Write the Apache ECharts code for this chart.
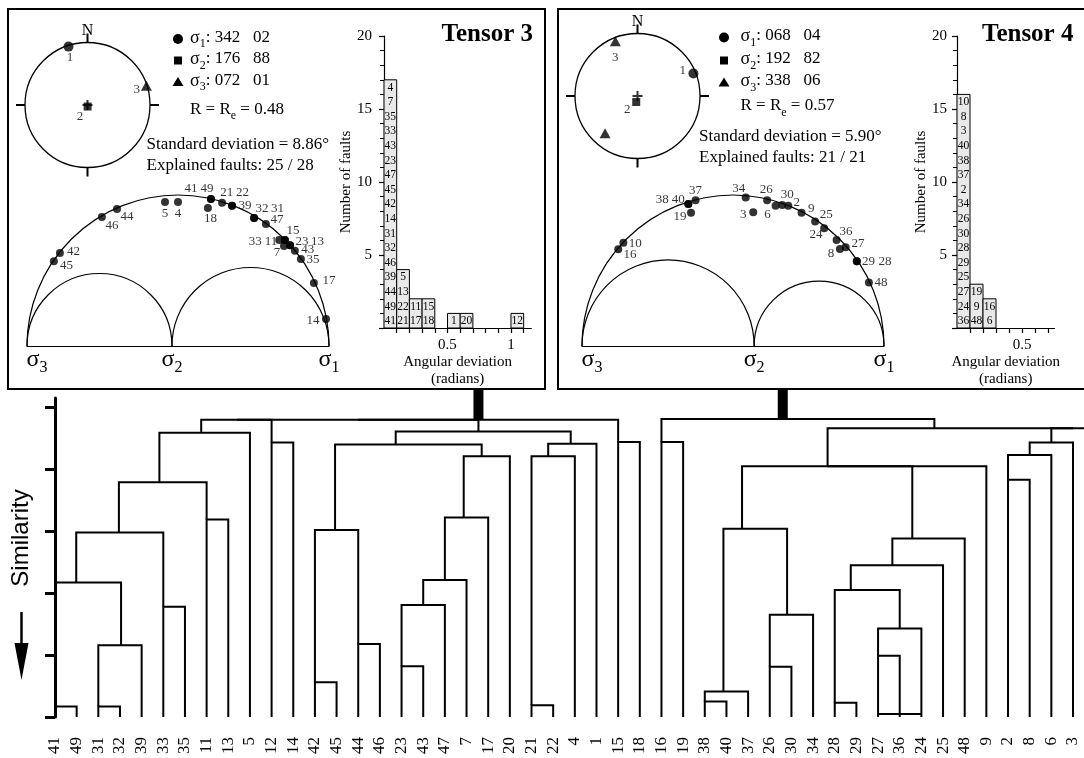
<!DOCTYPE html>
<html>
<head>
<meta charset="utf-8">
<title>Tensor 3 / Tensor 4</title>
<script src="https://cdn.jsdelivr.net/npm/echarts@6.0.0/dist/echarts.min.js"></script>
<style>
html,body{margin:0;padding:0;background:#ffffff;}
#chart{width:1084px;height:758px;}
</style>
</head>
<body>
<div id="chart"></div>
<script>
// ================= DATA =================
// principal stress axes: [trend, plunge] for sigma1, sigma2, sigma3
const t3Principal = [[342, 2], [176, 88], [72, 1]];
const t4Principal = [[68, 4], [192, 82], [338, 6]];
const t4ExtraTriangle = [[221, 22]];
const t3Ratio = 0.48;
const t4Ratio = 0.57;
const t3StdDev = '8.86';
const t4StdDev = '5.90';
const t3Explained = [25, 28];
const t4Explained = [21, 21];

// Mohr diagram points (normalised normal stress, shear stress)
const t3MohrNames = ['45','42','46','44','5','4','18','41','49','21','22','39','32','31','47','33','11','15','7','23','13','43','35','17','14'];
const t3MohrSigma = [0.089,0.109,0.248,0.298,0.457,0.500,0.599,0.609,0.609,0.646,0.679,0.679,0.752,0.752,0.791,0.835,0.854,0.854,0.851,0.871,0.871,0.887,0.907,0.950,0.990];
const t3MohrTau   = [0.281,0.308,0.427,0.454,0.477,0.477,0.457,0.487,0.487,0.474,0.464,0.464,0.424,0.424,0.404,0.351,0.351,0.351,0.331,0.334,0.334,0.315,0.288,0.209,0.089];

const t4MohrNames = ['16','10','38','40','37','19','34','3','26','6','30','2','9','25','24','36','27','8','29','28','48'];
const t4MohrSigma = [0.120,0.137,0.352,0.352,0.376,0.361,0.542,0.567,0.613,0.641,0.663,0.683,0.727,0.772,0.802,0.843,0.873,0.854,0.910,0.910,0.950];
const t4MohrTau   = [0.320,0.342,0.470,0.470,0.483,0.441,0.492,0.443,0.483,0.464,0.467,0.464,0.441,0.412,0.390,0.351,0.327,0.321,0.281,0.281,0.210];

// Histograms of angular deviation (bin start, faults listed bottom to top)
const histBinWidth = 0.1;
const t3HistBins = [0, 0.1, 0.2, 0.3, 0.5, 0.6, 1.0];
const t3HistFaults = [
  ['41','49','44','39','46','32','31','14','42','45','47','23','43','33','35','7','4'],
  ['21','22','13','5'], ['17','11'], ['18','15'], ['1'], ['20'], ['12']
];
const t4HistBins = [0, 0.1, 0.2];
const t4HistFaults = [
  ['36','24','27','25','29','28','30','26','34','2','37','38','40','3','8','10'],
  ['48','9','19'], ['6','16']
];
const t3HistTicks = [0.1,0.2,0.3,0.4,0.5,0.6,0.7,0.8,0.9,1.0,1.1];
const t3HistLabels = [0.5, 1];
const t4HistTicks = [0.1,0.2,0.3,0.4,0.5,0.6,0.7];
const t4HistLabels = [0.5];

// Dendrogram: leaf order and merges [left child, right child, height, attach position]
// children: string = leaf label, number = merge index
const leaves = ['41','49','31','32','39','33','35','11','13','5','12','14','42','45','44','46','23','43','47','7','17','20','21','22','4','1','15','18',
                '16','19','38','40','37','26','30','34','28','29','27','36','24','25','48','9','2','8','6','3','10'];
const merges = [
  ['41','49',0.17,0], ['31','32',0.17,2], [1,'39',1.16,3.05], [0,2,2.17,0.98], ['33','35',1.78,5],
  [3,4,2.98,2.95], ['11','13',3.19,7], [5,6,3.79,4.82], [7,'5',4.59,6.75], ['12','14',4.43,10],
  ['42','45',0.56,12], ['44','46',1.18,14], [10,11,3.02,12.93], ['23','43',0.82,16], [13,'47',1.81,17],
  [14,'7',2.21,18], [15,'17',3.22,18.87], [16,'20',4.21,19.7], [12,17,4.40,15.73], ['21','22',0.19,22],
  [19,'4',4.21,22.77], [20,'1',4.41,23.81], [18,21,4.61,19.55], ['15','18',4.44,26], [8,9,4.80,8.4],
  [24,22,4.80,14], [25,23,4.80,19.55],
  ['16','19',4.44,28], ['38','40',0.25,30], [28,'37',0.41,30.86], ['26','30',0.81,33], [30,'34',1.65,33.8],
  [29,31,3.04,31.72], ['28','29',0.23,36], ['27','36',0.99,38], [34,'24',1.43,39], [33,35,2.05,36.74],
  [36,'25',2.45,38.66], [37,'48',2.88,39.58], [32,38,4.05,35.67], [39,'9',4.05,35.67], ['2','8',3.83,44],
  [41,'6',4.23,45], [42,'3',4.43,46], [43,'10',4.66,47], [40,44,4.66,40.6], [27,45,4.81,33.6]
];
const tensorRoots = [26, 46];
const dendroTies = [['27','24',0.05]];
const simTicks = [0,1,2,3,4,5];

// ================= STYLE (label placement in px) =================
const SERIF = '"Liberation Serif", "Times New Roman", serif';
const SANS = '"Liberation Sans", Arial, sans-serif';
const PANEL_BOTTOM = 389;
const t3MohrLabelOff = {'45':[12.5,4],'42':[13.5,-1],'46':[10,9],'44':[10,8],'5':[0,12],'4':[0,12],'18':[2.5,10.5],
  '41':[-20,-10],'49':[-4,-10],'21':[4.7,-10.5],'22':[10.5,-13.5],'39':[13,-0.5],'32':[8,-9],'31':[23.5,-9],
  '47':[11,-4],'33':[-24,1.5],'11':[-14,1.5],'15':[8,-9],'7':[-7,6.5],'23':[12,-3.5],'13':[27.5,-3.5],
  '43':[13,-1],'35':[12,1],'17':[15,-2],'14':[-13,1]};
const t4MohrLabelOff = {'16':[11.7,5.7],'10':[12,0.5],'38':[-26,-4.5],'40':[-10,-4.5],'37':[0,-9.5],'19':[-11,4],
  '34':[-7,-8.5],'3':[-10,2.7],'26':[-1,-11],'6':[-8,9],'30':[5,-10],'2':[8.4,-3],'9':[9.6,-4],'25':[11,-6.5],
  '24':[-8.3,6.7],'36':[9.3,-8],'27':[12.3,-3.3],'8':[-9,5],'29':[11.6,0.5],'28':[28.3,0.5],'48':[12,0]};
const t3StereoLabelOff = [[1.5,10.5],[-7.6,10.5],[-9.7,4]];
const t4StereoLabelOff = [[-10.7,-3],[-9,8],[0,16]];

// ================= HELPERS =================
function eqArea(plunge) { return Math.SQRT2 * Math.sin((90 - plunge) / 2 * Math.PI / 180); }
function pad(n, w) { return String(n).padStart(w, '0'); }
const principalSymbols = ['circle', 'rect', 'triangle'];
const principalSizes = [10, 8, [11, 10]];
const plusPath = 'path://M4 0H6V4H10V6H6V10H4V6H0V4H4Z';

function stereoSeries(polarIndex, principal, offsets, extra) {
  const data = principal.map((p, i) => ({
    value: [eqArea(p[1]), p[0]],
    symbol: principalSymbols[i], symbolSize: principalSizes[i],
    label: { show: true, formatter: String(i + 1), offset: offsets[i] }
  }));
  (extra || []).forEach(p => data.push({ value: [eqArea(p[1]), p[0]], symbol: 'triangle', symbolSize: [11, 10], label: { show: false } }));
  data.push({ value: [0, 0], symbol: plusPath, symbolSize: 10, label: { show: false } });
  return {
    type: 'scatter', coordinateSystem: 'polar', polarIndex, silent: true,
    itemStyle: { color: '#000' },
    label: { position: 'inside', color: '#000', fontFamily: SERIF, fontSize: 13 },
    data
  };
}

function angleAxis(polarIndex) {
  return {
    polarIndex, type: 'value', min: 0, max: 360, interval: 90, startAngle: 90, clockwise: true,
    axisLine: { show: true, lineStyle: { color: '#000', width: 1.3 } },
    axisTick: { show: true, length: 9, lineStyle: { color: '#000', width: 2 } },
    axisLabel: { show: true, margin: 4, color: '#000', fontFamily: SERIF, fontSize: 16, formatter: v => (v === 0 ? 'N' : '') },
    splitLine: { show: false }, splitArea: { show: false }
  };
}
function radiusAxis(polarIndex) {
  return { polarIndex, type: 'value', min: 0, max: 1, axisLine: { show: false }, axisTick: { show: false }, axisLabel: { show: false }, splitLine: { show: false } };
}

function mohrXAxis(gridIndex, R) {
  return {
    gridIndex, type: 'value', min: 0, max: 1,
    axisLine: { show: true, onZero: false, lineStyle: { color: '#000', width: 1.2 } },
    axisTick: { show: false }, splitLine: { show: false },
    axisLabel: {
      customValues: [0, R, 1], margin: 2, color: '#000',
      formatter: v => (v === 0 ? '{s0|σ}{b|3}' : (v === 1 ? '{s|σ}{b|1}' : '{s|σ}{b|2}')),
      rich: {
        s: { fontFamily: SERIF, fontSize: 24, lineHeight: 26, verticalAlign: 'top', color: '#000' },
        s0: { fontFamily: SERIF, fontSize: 24, lineHeight: 26, verticalAlign: 'top', color: '#000', padding: [0, 0, 0, 20] },
        b: { fontFamily: SERIF, fontSize: 16, lineHeight: 16, verticalAlign: 'top', color: '#000', padding: [12, 0, 0, 0] }
      }
    }
  };
}
function mohrYAxis(gridIndex) { return { gridIndex, type: 'value', min: 0, max: 0.5, show: false }; }

function mohrCircles(xAxisIndex, R) {
  const circles = [[0.5, 0.5], [R / 2, R / 2], [(1 + R) / 2, (1 - R) / 2]];
  return {
    type: 'custom', xAxisIndex, yAxisIndex: xAxisIndex, silent: true, clip: false,
    encode: { x: 0, y: 1 },
    data: circles,
    renderItem: (params, api) => {
      const c = api.coord([api.value(0), 0]);
      const r = api.size([api.value(1), 0])[0];
      return { type: 'arc', shape: { cx: c[0], cy: c[1], r, startAngle: Math.PI, endAngle: 2 * Math.PI, clockwise: true },
               style: { stroke: '#000', fill: 'none', lineWidth: 1.2 } };
    }
  };
}
function mohrPoints(xAxisIndex, names, sig, tau, offs) {
  return {
    type: 'scatter', xAxisIndex, yAxisIndex: xAxisIndex, silent: true,
    symbol: 'circle', symbolSize: 8, itemStyle: { color: '#000' },
    label: { show: true, position: 'inside', color: '#000', fontFamily: SERIF, fontSize: 13, formatter: p => p.name },
    data: names.map((n, i) => ({ name: n, value: [sig[i], tau[i]], label: { offset: offs[n] } }))
  };
}

function histXAxis(gridIndex, max, ticks, labels, gap) {
  return {
    gridIndex, type: 'value', min: 0, max,
    axisLine: { show: true, onZero: false, lineStyle: { color: '#000', width: 1.2 } },
    axisTick: { show: true, customValues: ticks, length: 5, lineStyle: { color: '#000', width: 1.2 } },
    axisLabel: { customValues: labels, margin: 10, color: '#000', fontFamily: SERIF, fontSize: 15, formatter: v => String(v) },
    splitLine: { show: false },
    name: 'Angular deviation\n(radians)', nameLocation: 'middle', nameGap: gap,
    nameTextStyle: { color: '#000', fontFamily: SERIF, fontSize: 15, lineHeight: 17 }
  };
}
function histYAxis(gridIndex, labelMargin, nameGap) {
  return {
    gridIndex, type: 'value', min: 0, max: 20, interval: 5,
    axisLine: { show: true, lineStyle: { color: '#000', width: 1.2 } },
    axisTick: { show: true, length: 5, lineStyle: { color: '#000', width: 1.2 } },
    minorTick: { show: true, splitNumber: 5, length: 4, lineStyle: { color: '#000', width: 1 } },
    axisLabel: { margin: labelMargin, color: '#000', fontFamily: SERIF, fontSize: 15, formatter: v => (v === 0 ? '' : String(v)) },
    splitLine: { show: false }, minorSplitLine: { show: false },
    name: 'Number of faults', nameLocation: 'middle', nameGap,
    nameTextStyle: { color: '#000', fontFamily: SERIF, fontSize: 15 }
  };
}
function histSeries(xAxisIndex, bins, faults) {
  return {
    type: 'custom', xAxisIndex, yAxisIndex: xAxisIndex, silent: true, clip: false,
    encode: { x: 0, y: 1 },
    data: bins.map((b, i) => [b, faults[i].length]),
    renderItem: (params, api) => {
      const x0 = api.value(0), n = api.value(1);
      const p0 = api.coord([x0, 0]), p1 = api.coord([x0 + histBinWidth, n]);
      const children = [{ type: 'rect', shape: { x: p0[0], y: p1[1], width: p1[0] - p0[0], height: p0[1] - p1[1] },
                          style: { fill: '#e9e9e9', stroke: '#000', lineWidth: 1 } }];
      faults[params.dataIndex].forEach((f, i) => {
        const c = api.coord([x0 + histBinWidth / 2, i + 0.5]);
        children.push({ type: 'text', x: c[0], y: c[1] + 0.5,
          style: { text: f, fill: '#000', font: '11.5px ' + SERIF, align: 'center', verticalAlign: 'middle', textAlign: 'center', textVerticalAlign: 'middle' } });
      });
      return { type: 'group', children };
    }
  };
}

// dendrogram node positions
const nodeX = {}, nodeH = {};
leaves.forEach((l, i) => { nodeX['L' + l] = i; nodeH['L' + l] = 0; });
merges.forEach((m, i) => { nodeX['M' + i] = m[3]; nodeH['M' + i] = m[2]; });
const nk = c => (typeof c === 'number' ? 'M' + c : 'L' + c);
const leafIndex = leaves.map((l, i) => i).filter(i => i <= 47);

// ================= GRAPHICS (frames, legends, annotations) =================
const graphics = [];
graphics.push({ type: 'rect', silent: true, shape: { x: 8, y: 9, width: 537, height: 380 }, style: { fill: 'none', stroke: '#000', lineWidth: 2 } });
graphics.push({ type: 'rect', silent: true, shape: { x: 558, y: 9, width: 560, height: 380 }, style: { fill: 'none', stroke: '#000', lineWidth: 2 } });
graphics.push({ type: 'text', x: 533, y: 35, style: { text: 'Tensor 3', font: 'bold 25px ' + SERIF, fill: '#000', align: 'right', verticalAlign: 'middle', textAlign: 'right', textVerticalAlign: 'middle' } });
graphics.push({ type: 'text', x: 982, y: 35, style: { text: 'Tensor 4', font: 'bold 25px ' + SERIF, fill: '#000', align: 'left', verticalAlign: 'middle', textAlign: 'left', textVerticalAlign: 'middle' } });

const legendRich = {
  s: { fontFamily: SERIF, fontSize: 18, lineHeight: 20, verticalAlign: 'top', fill: '#000' },
  n: { fontFamily: SERIF, fontSize: 17, lineHeight: 20, verticalAlign: 'top', fill: '#000' },
  b: { fontFamily: SERIF, fontSize: 12, lineHeight: 12, verticalAlign: 'top', fill: '#000', padding: [9, 0, 0, 0] }
};
function addLegend(cfg, principal, R, std, expl) {
  const sx = cfg.symX;
  cfg.rows.forEach((y, i) => {
    if (i === 0) graphics.push({ type: 'circle', silent: true, shape: { cx: sx, cy: y, r: 5 }, style: { fill: '#000' } });
    if (i === 1) graphics.push({ type: 'rect', silent: true, shape: { x: sx - 4, y: y - 4, width: 8, height: 8 }, style: { fill: '#000' } });
    if (i === 2) graphics.push({ type: 'polygon', silent: true, shape: { points: [[sx, y - 5], [sx + 5.5, y + 4], [sx - 5.5, y + 4]] }, style: { fill: '#000' } });
    const p = principal[i];
    graphics.push({ type: 'text', x: cfg.textX, y, silent: true,
      style: { text: '{s|σ}{b|' + (i + 1) + '}{n|: ' + pad(p[0], 3) + '   ' + pad(p[1], 2) + '}', rich: legendRich,
               fill: '#000', align: 'left', verticalAlign: 'middle', textAlign: 'left', textVerticalAlign: 'middle' } });
  });
  graphics.push({ type: 'text', x: cfg.textX, y: cfg.rY, silent: true,
    style: { text: '{n|R = R}{b|e}{n| = ' + R.toFixed(2) + '}', rich: legendRich, fill: '#000', align: 'left', verticalAlign: 'middle', textAlign: 'left', textVerticalAlign: 'middle' } });
  graphics.push({ type: 'text', x: cfg.stdX, y: cfg.stdY, silent: true,
    style: { text: 'Standard deviation = ' + std + '°', font: '17px ' + SERIF, fill: '#000', align: 'left', verticalAlign: 'middle', textAlign: 'left', textVerticalAlign: 'middle' } });
  graphics.push({ type: 'text', x: cfg.stdX, y: cfg.explY, silent: true,
    style: { text: 'Explained faults: ' + expl[0] + ' / ' + expl[1], font: '17px ' + SERIF, fill: '#000', align: 'left', verticalAlign: 'middle', textAlign: 'left', textVerticalAlign: 'middle' } });
}
addLegend({ symX: 178, textX: 190, rows: [39, 60.5, 82], rY: 111, stdX: 146.5, stdY: 144.5, explY: 165.5 }, t3Principal, t3Ratio, t3StdDev, t3Explained);
addLegend({ symX: 724, textX: 740.5, rows: [37.5, 60.5, 82.5], rY: 107.5, stdX: 699, stdY: 136.5, explY: 158 }, t4Principal, t4Ratio, t4StdDev, t4Explained);

graphics.push({ type: 'text', x: 21, y: 538, rotation: Math.PI / 2, silent: true,
  style: { text: 'Similarity', font: '24px ' + SANS, fill: '#000', align: 'center', verticalAlign: 'middle', textAlign: 'center', textVerticalAlign: 'middle' } });
graphics.push({ type: 'line', silent: true, shape: { x1: 21.5, y1: 612, x2: 21.5, y2: 646 }, style: { stroke: '#000', lineWidth: 2.5 } });
graphics.push({ type: 'polygon', silent: true, shape: { points: [[14.5, 643], [28.5, 643], [21.5, 680]] }, style: { fill: '#000' } });

// ================= CHART =================
const chart = echarts.init(document.getElementById('chart'), null, { renderer: 'canvas' });
const option = {
  backgroundColor: '#ffffff',
  animation: false,
  tooltip: { show: false },
  grid: [
    { left: 27, top: 195, width: 302, height: 151, outerBoundsMode: 'none' },
    { left: 384, top: 36, width: 147.3, height: 292, outerBoundsMode: 'none' },
    { left: 582, top: 195, width: 302, height: 151, outerBoundsMode: 'none' },
    { left: 957, top: 36, width: 97.5, height: 292, outerBoundsMode: 'none' },
    { left: 48, right: 11, top: 398, bottom: 41, outerBoundsMode: 'none' }
  ],
  polar: [ { center: [87.5, 105], radius: 62.5 }, { center: [637.5, 96], radius: 62.5 } ],
  angleAxis: [angleAxis(0), angleAxis(1)],
  radiusAxis: [radiusAxis(0), radiusAxis(1)],
  xAxis: [
    mohrXAxis(0, t3Ratio),
    histXAxis(1, 1.16, t3HistTicks, t3HistLabels, 24),
    mohrXAxis(2, t4Ratio),
    histXAxis(3, 0.75, t4HistTicks, t4HistLabels, 24),
    { gridIndex: 4, type: 'value', min: -0.3232, max: 47,
      axisLine: { show: false }, axisTick: { show: false }, splitLine: { show: false },
      axisLabel: { customValues: leafIndex, rotate: 90, margin: 20, color: '#000', fontFamily: SERIF, fontSize: 17,
                   formatter: v => leaves[Math.round(v)] || '' } }
  ],
  yAxis: [
    mohrYAxis(0),
    histYAxis(1, 12, 30),
    mohrYAxis(2),
    histYAxis(3, 10, 25),
    { gridIndex: 4, type: 'value', min: 0, max: 5.15,
      axisLine: { show: true, lineStyle: { color: '#000', width: 3 } },
      axisTick: { show: true, customValues: simTicks, length: 10, lineStyle: { color: '#000', width: 3 } },
      axisLabel: { show: false }, splitLine: { show: false } }
  ],
  series: [
    mohrCircles(0, t3Ratio),
    mohrPoints(0, t3MohrNames, t3MohrSigma, t3MohrTau, t3MohrLabelOff),
    histSeries(1, t3HistBins, t3HistFaults),
    mohrCircles(2, t4Ratio),
    mohrPoints(2, t4MohrNames, t4MohrSigma, t4MohrTau, t4MohrLabelOff),
    histSeries(3, t4HistBins, t4HistFaults),
    {
      type: 'custom', xAxisIndex: 4, yAxisIndex: 4, silent: true, clip: false,
      encode: { x: 0, y: 1 },
      data: merges.map(m => [m[3], m[2]]),
      renderItem: (params, api) => {
        const m = merges[params.dataIndex];
        const a = nk(m[0]), b = nk(m[1]);
        const pts = [[nodeX[a], nodeH[a]], [nodeX[a], m[2]], [nodeX[b], m[2]], [nodeX[b], nodeH[b]]].map(p => api.coord(p));
        return { type: 'polyline', shape: { points: pts }, style: { stroke: '#000', lineWidth: 2, fill: null } };
      }
    },
    {
      type: 'custom', xAxisIndex: 4, yAxisIndex: 4, silent: true, clip: false,
      encode: { x: 0, y: 1 },
      data: dendroTies.map(t => [nodeX['L' + t[0]], t[2]]),
      renderItem: (params, api) => {
        const t = dendroTies[params.dataIndex];
        const p0 = api.coord([nodeX['L' + t[0]], t[2]]), p1 = api.coord([nodeX['L' + t[1]], t[2]]);
        return { type: 'line', shape: { x1: p0[0], y1: p0[1], x2: p1[0], y2: p1[1] }, style: { stroke: '#000', lineWidth: 2 } };
      }
    },
    {
      type: 'custom', xAxisIndex: 4, yAxisIndex: 4, silent: true, clip: false,
      encode: { x: 0, y: 1 },
      data: tensorRoots.map(i => [merges[i][3], merges[i][2]]),
      renderItem: (params, api) => {
        const p = api.coord([api.value(0), api.value(1)]);
        return { type: 'rect', shape: { x: p[0] - 5, y: PANEL_BOTTOM, width: 10, height: p[1] - PANEL_BOTTOM }, style: { fill: '#000' } };
      }
    },
    stereoSeries(0, t3Principal, t3StereoLabelOff, []),
    stereoSeries(1, t4Principal, t4StereoLabelOff, t4ExtraTriangle)
  ],
  graphic: { elements: graphics }
};
chart.setOption(option);
</script>
</body>
</html>
